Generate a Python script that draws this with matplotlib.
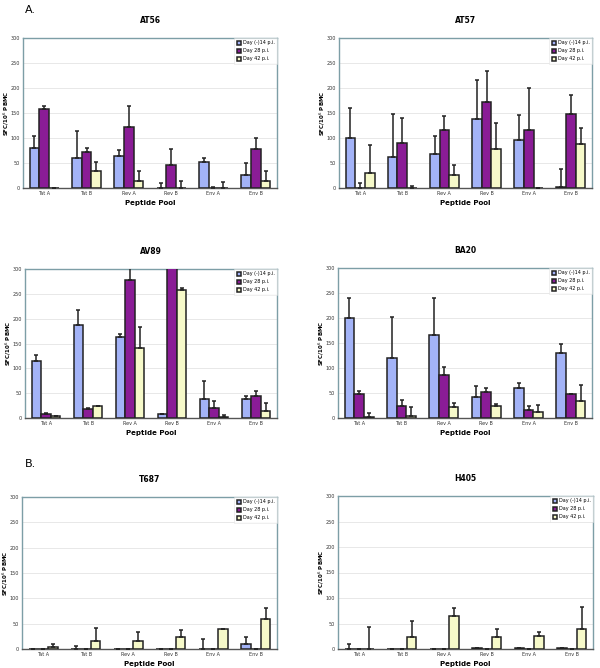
import numpy as np
import matplotlib
matplotlib.use("Agg")
import matplotlib.pyplot as plt

pools = ["Tat A", "Tat B", "Rev A", "Rev B", "Env A", "Env B"]
series = ["Day (-)14 p.i.", "Day 28 p.i.", "Day 42 p.i."]
yticks = [0, 50, 100, 150, 200, 250, 300]

# mean values and upper error-bar tops (SFC/10^6 PBMC)
at56_d14 = [80, 60, 65, 0, 53, 26]
at56_d28 = [158, 72, 123, 46, 0, 78]
at56_d42 = [0, 35, 14, 0, 0, 14]
at56_t14 = [105, 114, 77, 10, 60, 50]
at56_t28 = [165, 80, 165, 78, 2, 100]
at56_t42 = [0, 53, 34, 14, 12, 34]

at57_d14 = [101, 63, 68, 138, 96, 3]
at57_d28 = [0, 91, 116, 173, 117, 148]
at57_d42 = [31, 0, 26, 78, 0, 88]
at57_t14 = [161, 148, 104, 216, 146, 38]
at57_t28 = [11, 141, 144, 234, 200, 187]
at57_t42 = [87, 5, 47, 131, 0, 120]

av89_d14 = [115, 188, 163, 9, 38, 38]
av89_d28 = [8, 18, 278, 330, 20, 44]
av89_d42 = [5, 25, 141, 258, 3, 15]
av89_t14 = [127, 217, 170, 9, 74, 45]
av89_t28 = [11, 21, 320, 330, 35, 54]
av89_t42 = [5, 25, 183, 261, 7, 30]

ba20_d14 = [200, 121, 165, 43, 61, 131]
ba20_d28 = [48, 25, 87, 53, 17, 48]
ba20_d42 = [3, 5, 23, 25, 13, 35]
ba20_t14 = [239, 202, 239, 64, 71, 148]
ba20_t28 = [55, 36, 102, 60, 24, 48]
ba20_t42 = [11, 23, 30, 28, 27, 67]

t687_d14 = [0, 0, 0, 0, 0, 9]
t687_d28 = [0, 0, 0, 0, 0, 0]
t687_d42 = [3, 16, 16, 24, 39, 59]
t687_t14 = [0, 5, 0, 0, 20, 23]
t687_t28 = [0, 0, 0, 0, 0, 0]
t687_t42 = [10, 41, 33, 37, 39, 80]

h405_d14 = [0, 0, 0, 1, 1, 1]
h405_d28 = [0, 0, 0, 0, 0, 0]
h405_d42 = [0, 23, 65, 23, 25, 40]
h405_t14 = [9, 0, 0, 1, 1, 1]
h405_t28 = [0, 0, 0, 0, 0, 0]
h405_t42 = [43, 55, 80, 40, 33, 82]

colors = ["#a3b3f7", "#8a1c96", "#f6f9c9"]
spine_col = "#7d9ea6"

W, H = 600, 668
fig = plt.figure(figsize=(6, 6.68), dpi=100)

# axes boxes in pixels: left, right, top, bottom
panels = [
    ("AT56", (23, 277, 38, 188), [at56_d14, at56_d28, at56_d42], [at56_t14, at56_t28, at56_t42]),
    ("AT57", (339, 592, 38, 188), [at57_d14, at57_d28, at57_d42], [at57_t14, at57_t28, at57_t42]),
    ("AV89", (25, 277, 269, 418), [av89_d14, av89_d28, av89_d42], [av89_t14, av89_t28, av89_t42]),
    ("BA20", (338, 592, 268, 418), [ba20_d14, ba20_d28, ba20_d42], [ba20_t14, ba20_t28, ba20_t42]),
    ("T687", (22, 277, 497, 649), [t687_d14, t687_d28, t687_d42], [t687_t14, t687_t28, t687_t42]),
    ("H405", (338, 593, 496, 649), [h405_d14, h405_d28, h405_d42], [h405_t14, h405_t28, h405_t42]),
]

x = np.arange(len(pools))
w = 0.23
for name, (l, r, t, b), vals, tops in panels:
    ax = fig.add_axes([l / W, 1 - b / H, (r - l) / W, (b - t) / H])
    for i in range(3):
        v = np.array(vals[i], dtype=float)
        err = np.clip(np.array(tops[i], dtype=float) - v, 0, None)
        ax.bar(x + (i - 1) * w, v, w, color=colors[i], edgecolor="#222222", linewidth=1.1,
               label=series[i], zorder=3,
               yerr=[np.zeros_like(err), err],
               error_kw=dict(ecolor="#222222", elinewidth=1.1, capsize=1.5, capthick=1.1, zorder=4))
    ax.set_xlim(-0.5, 5.5)
    ax.set_ylim(0, 300)
    ax.set_yticks(yticks)
    ax.set_xticks(x)
    ax.set_xticklabels(pools)
    ax.tick_params(labelsize=3.5, length=0, pad=2, labelcolor="#333333")
    ax.yaxis.grid(True, color="#e4e4e4", linewidth=0.6, zorder=0)
    ax.set_axisbelow(True)
    for s in ax.spines.values():
        s.set_color(spine_col)
        s.set_linewidth(1.0)
    ax.spines["bottom"].set_color("#555555")
    ax.set_title(name, fontsize=5.5, fontweight="bold", pad=11)
    ax.set_ylabel("SFC/10$^6$ PBMC", fontsize=4, fontweight="bold")
    ax.yaxis.set_label_coords(-0.048, 0.5)
    ax.set_xlabel("Peptide Pool", fontsize=5, fontweight="bold", labelpad=3)
    leg = ax.legend(loc="upper right", fontsize=3.5, frameon=True, fancybox=False,
                    borderaxespad=0.0, handlelength=0.9, handleheight=0.9,
                    labelspacing=0.6, borderpad=0.5, handletextpad=0.3)
    leg.get_frame().set_edgecolor("#dddddd")
    leg.get_frame().set_linewidth(0.4)
    for p in leg.get_patches():
        p.set_edgecolor("#222222")

fig.text(25 / W, 1 - 10 / H, "A.", fontsize=8, va="center")
fig.text(25 / W, 1 - 464 / H, "B.", fontsize=8, va="center")

fig.savefig("out.png", dpi=100)
